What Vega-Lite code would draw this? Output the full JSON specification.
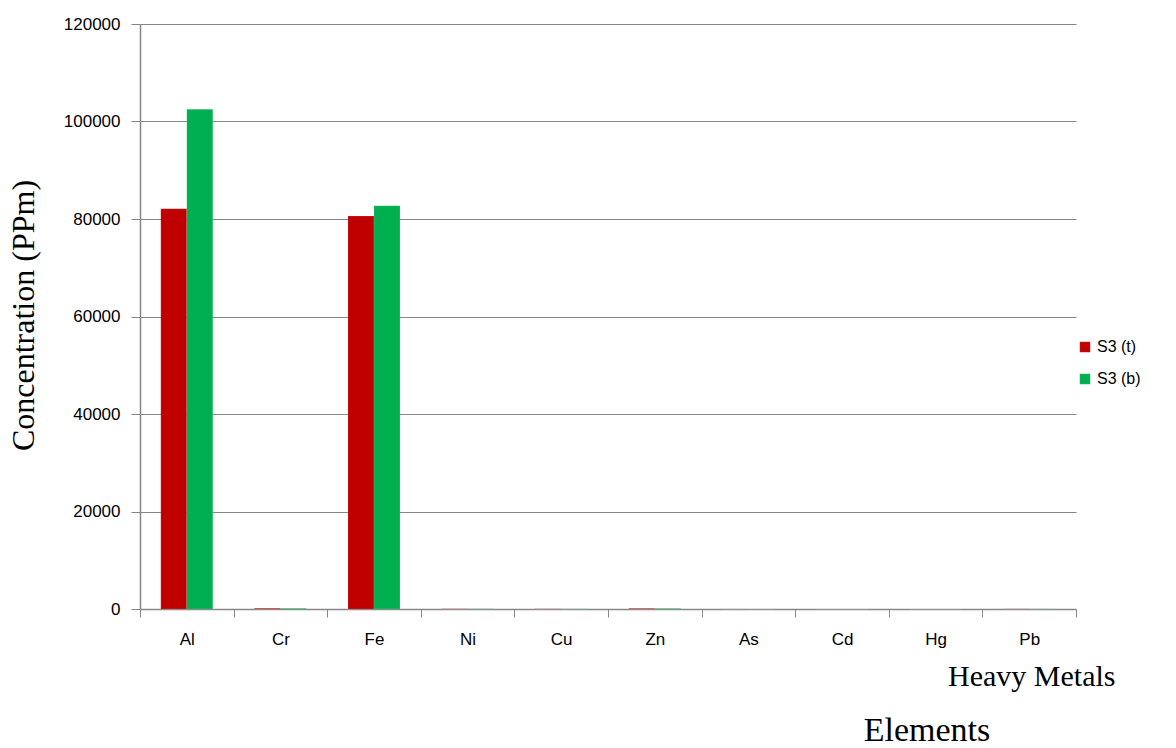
{
  "$schema": "https://vega.github.io/schema/vega-lite/v6.json",
  "autosize": "none",
  "width": 936,
  "height": 585,
  "padding": {"left": 140, "top": 24, "right": 100, "bottom": 139},
  "background": "white",
  "data": {
    "values": [
      {"element": "Al", "series": "S3 (t)", "value": 82100},
      {"element": "Al", "series": "S3 (b)", "value": 102500},
      {"element": "Cr", "series": "S3 (t)", "value": 150},
      {"element": "Cr", "series": "S3 (b)", "value": 140},
      {"element": "Fe", "series": "S3 (t)", "value": 80600},
      {"element": "Fe", "series": "S3 (b)", "value": 82700},
      {"element": "Ni", "series": "S3 (t)", "value": 50},
      {"element": "Ni", "series": "S3 (b)", "value": 45},
      {"element": "Cu", "series": "S3 (t)", "value": 40},
      {"element": "Cu", "series": "S3 (b)", "value": 35},
      {"element": "Zn", "series": "S3 (t)", "value": 130},
      {"element": "Zn", "series": "S3 (b)", "value": 120},
      {"element": "As", "series": "S3 (t)", "value": 10},
      {"element": "As", "series": "S3 (b)", "value": 9},
      {"element": "Cd", "series": "S3 (t)", "value": 0.3},
      {"element": "Cd", "series": "S3 (b)", "value": 0.3},
      {"element": "Hg", "series": "S3 (t)", "value": 0.1},
      {"element": "Hg", "series": "S3 (b)", "value": 0.1},
      {"element": "Pb", "series": "S3 (t)", "value": 30},
      {"element": "Pb", "series": "S3 (b)", "value": 28}
    ]
  },
  "title": {
    "text": "Elements",
    "orient": "bottom",
    "anchor": "middle",
    "frame": "group",
    "dx": 319,
    "offset": 23,
    "font": "Liberation Serif",
    "fontSize": 34,
    "fontWeight": "normal",
    "color": "black"
  },
  "mark": {"type": "bar"},
  "encoding": {
    "x": {
      "field": "element",
      "type": "nominal",
      "sort": ["Al", "Cr", "Fe", "Ni", "Cu", "Zn", "As", "Cd", "Hg", "Pb"],
      "scale": {"paddingInner": 0, "paddingOuter": 0},
      "axis": {
        "title": "Heavy Metals",
        "titleFont": "Liberation Serif",
        "titleFontSize": 30,
        "titleFontWeight": "normal",
        "titleColor": "black",
        "titleAnchor": null,
        "titleAlign": "right",
        "titleX": 975,
        "titleY": 76,
        "titleBaseline": "alphabetic",
        "labelAngle": 0,
        "labelFont": "Liberation Sans",
        "labelFontSize": 17,
        "labelColor": "black",
        "labelPadding": 14,
        "tickBand": "extent",
        "tickColor": "#868686",
        "tickSize": 8,
        "domainColor": "#868686",
        "domainWidth": 1.5,
        "grid": false
      }
    },
    "xOffset": {
      "field": "series",
      "type": "nominal",
      "sort": ["S3 (t)", "S3 (b)"],
      "scale": {"paddingInner": 0, "paddingOuter": 0.8}
    },
    "y": {
      "field": "value",
      "type": "quantitative",
      "scale": {"domain": [0, 120000], "nice": false},
      "axis": {
        "values": [0, 20000, 40000, 60000, 80000, 100000, 120000],
        "format": "d",
        "title": "Concentration (PPm)",
        "titleFont": "Liberation Serif",
        "titleFontSize": 32,
        "titleFontWeight": "normal",
        "titleColor": "black",
        "titleX": -117,
        "titleY": 291,
        "titleAlign": "center",
        "titleBaseline": "middle",
        "labelFont": "Liberation Sans",
        "labelFontSize": 17,
        "labelColor": "black",
        "labelPadding": 11,
        "tickColor": "#868686",
        "tickSize": 9,
        "domainColor": "#868686",
        "domainWidth": 1.5,
        "gridColor": "#868686",
        "gridWidth": 1.2
      }
    },
    "color": {
      "field": "series",
      "type": "nominal",
      "sort": ["S3 (t)", "S3 (b)"],
      "scale": {"domain": ["S3 (t)", "S3 (b)"], "range": ["#C00000", "#00B050"]},
      "legend": {
        "title": null,
        "orient": "none",
        "legendX": 937,
        "legendY": 315,
        "symbolType": "square",
        "symbolSize": 110,
        "symbolStrokeWidth": 0,
        "labelFont": "Liberation Sans",
        "labelFontSize": 16,
        "labelColor": "black",
        "rowPadding": 16,
        "labelOffset": 4
      }
    }
  },
  "config": {"view": {"stroke": null}, "bar": {"stroke": "white", "strokeWidth": 0.3, "strokeOpacity": 0.4}}
}
